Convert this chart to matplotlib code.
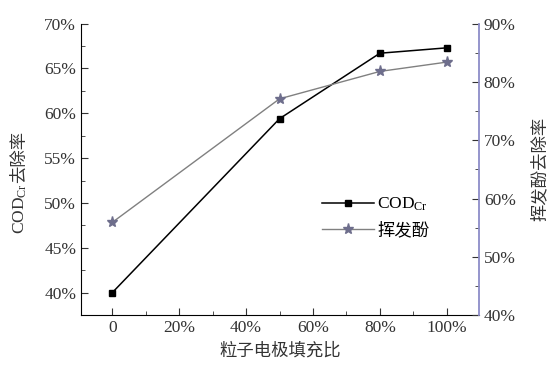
import matplotlib.pyplot as plt
from matplotlib.ticker import MultipleLocator, FuncFormatter

plt.rcParams['font.family'] = ['Liberation Serif', 'Noto Sans CJK SC']
plt.rcParams['mathtext.fontset'] = 'custom'
plt.rcParams['mathtext.rm'] = 'Liberation Serif'
plt.rcParams['mathtext.it'] = 'Liberation Serif'

# fill ratio (%) and removal rates (%)
fill_ratio = [0, 50, 80, 100]
cod_removal = [40.0, 59.4, 66.7, 67.3]
phenol_removal = [55.9, 77.1, 81.8, 83.4]

fig = plt.figure(figsize=(5.48, 3.69), dpi=100)
ax = fig.add_axes([0.148, 0.146, 0.726, 0.79])
ax2 = ax.twinx()

ax.plot(fill_ratio, cod_removal, color='black', lw=1.1, marker='s', ms=5,
        label='COD$_{\\mathrm{Cr}}$')
ax2.plot(fill_ratio, phenol_removal, color='#808080', lw=1.0, marker='*', ms=8,
         mfc='#6e6e8c', mec='#6e6e8c', label='挥发酚')

ax.set_xlim(-9.3, 109.6)
ax.set_ylim(37.5, 70)
ax2.set_ylim(40, 90)

pct = FuncFormatter(lambda v, p: '0' if v == 0 else f'{v:.0f}%')
ax.xaxis.set_major_locator(MultipleLocator(20))
ax.xaxis.set_minor_locator(MultipleLocator(10))
ax.xaxis.set_major_formatter(pct)
ax.yaxis.set_major_locator(MultipleLocator(5))
ax.yaxis.set_minor_locator(MultipleLocator(2.5))
ax.yaxis.set_major_formatter(FuncFormatter(lambda v, p: f'{v:.0f}%'))
ax2.yaxis.set_major_locator(MultipleLocator(10))
ax2.yaxis.set_minor_locator(MultipleLocator(5))
ax2.yaxis.set_major_formatter(FuncFormatter(lambda v, p: f'{v:.0f}%'))

for a in (ax, ax2):
    a.spines['top'].set_visible(False)
ax.spines['right'].set_visible(False)
ax2.spines['left'].set_visible(False)
ax2.spines['bottom'].set_visible(False)
ax2.spines['right'].set_color('#8c8cc8')
ax2.spines['right'].set_linewidth(1.3)

for a, which in ((ax, 'both'), (ax2, 'y')):
    a.tick_params(axis=which, which='both', direction='in', labelsize=12.5,
                  colors='#333333')
    a.tick_params(which='major', length=5)
    a.tick_params(which='minor', length=3)

ax.set_xlabel('粒子电极填充比', fontsize=12.5, color='#333333', labelpad=5)
ax2.set_ylabel('挥发酚去除率', fontsize=12.5, color='#333333', labelpad=12)

# left label: COD_Cr in serif mathtext, then the CJK part stacked after it
t1 = ax.text(-0.175, 0.28, 'COD$_{\\mathrm{Cr}}$', transform=ax.transAxes,
             rotation=90, ha='left', va='bottom', fontsize=12.5, color='#333333')
ax.annotate('去除率', xy=(0, 1), xycoords=t1, rotation=90, ha='left',
            va='bottom', fontsize=12.5, color='#333333')

h1, l1 = ax.get_legend_handles_labels()
h2, l2 = ax2.get_legend_handles_labels()
ax.legend(h1 + h2, l1 + l2, loc='center left', bbox_to_anchor=(0.565, 0.335),
          frameon=False, fontsize=12.5, handlelength=3.0, handletextpad=0.2,
          labelspacing=0.55)

fig.savefig('out.png', dpi=100)
